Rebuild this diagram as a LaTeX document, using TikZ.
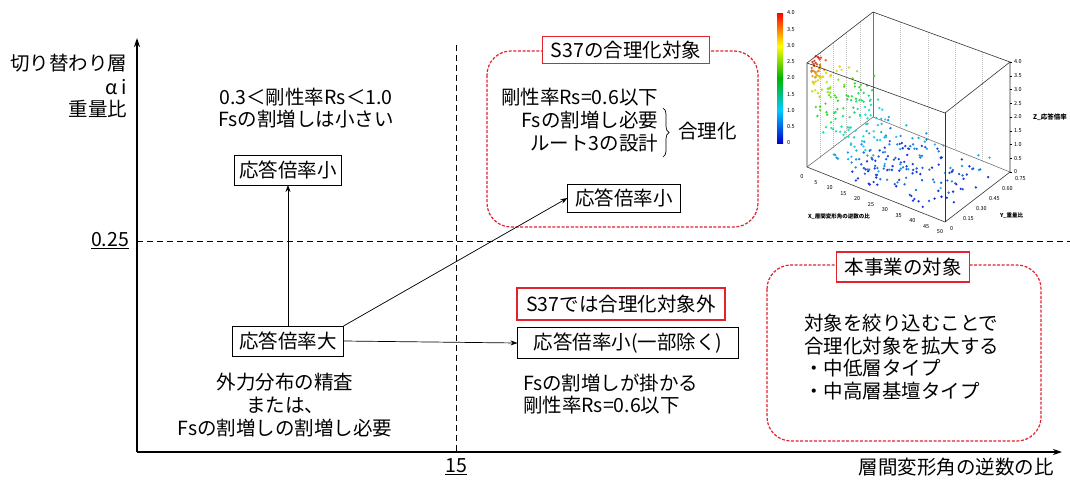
\documentclass[tikz,border=0pt]{standalone}
\usepackage{fontspec}
\setmainfont{Noto Sans CJK JP}
\usetikzlibrary{arrows.meta,decorations.pathreplacing,calc}
\definecolor{redln}{RGB}{225,35,45}
\begin{document}
\begin{tikzpicture}[x=1pt,y=-1pt,
  every node/.style={inner sep=0pt, outer sep=0pt},
  main/.style={font=\fontsize{19.5}{22.7}\selectfont},
  bbox/.style={draw=black, line width=0.9pt, fill=white, font=\fontsize{19.5}{22}\selectfont},
  rbox/.style={draw=redln, line width=1.2pt, fill=white, font=\fontsize{19.5}{22}\selectfont},
  rdash/.style={draw=redln, line width=1.2pt, dash pattern=on 3pt off 1.6pt, rounded corners=24pt},
  kdash/.style={line width=0.9pt, dash pattern=on 6pt off 4pt},
  arr/.style={-{Stealth[length=7pt,width=5pt]}, line width=0.7pt},
  axisln/.style={line width=1.4pt, -{Stealth[length=9pt,width=6pt]}},
  tk/.style={font=\fontsize{5.5}{6}\selectfont},
  edge3d/.style={line width=0.6pt, draw=black!80},
  grid3d/.style={line width=0.3pt, draw=black!25, dash pattern=on 1pt off 1pt},
]
\useasboundingbox (0,0) rectangle (1070,479);
\fill[white] (0,0) rectangle (1070,479);

% ---------- axes ----------
\coordinate (o) at (137,452);
\coordinate (ytop) at (137,38);
\coordinate (xend) at (1062,452);
\draw[axisln] (o) -- (ytop);
\draw[axisln] (o) -- (xend);
\coordinate (h0) at (137,241);
\coordinate (h1) at (1070,241);
\draw[kdash] (h0) -- (h1);
\coordinate (v0) at (456,45);
\coordinate (v1) at (456,452);
\draw[kdash] (v0) -- (v1);

\node[main, anchor=east] (yl1) at (127,63) {切り替わり層};
\node[main, anchor=east] (yl2) at (127,87) {α i};
\node[main, anchor=east] (yl3) at (127,109) {重量比};
\node[main, anchor=east] (v025) at (129,241) {\underline{0.25}};
\node[main] (v15) at (456,467) {\underline{15}};
\node[main] (xl) at (956,467) {層間変形角の逆数の比};

% ---------- left region ----------
\node[main, align=center] (tl) at (306,108) {0.3＜剛性率Rs＜1.0\\Fsの割増しは小さい};
\node[bbox, minimum width=107pt, minimum height=30pt] (small1) at (288,170) {応答倍率小};
\node[bbox, minimum width=111pt, minimum height=30pt] (big) at (288,341) {応答倍率大};
\node[main, align=center] (bl) at (285,405) {外力分布の精査\\または、\\Fsの割増しの割増し必要};

% ---------- S37 target ----------
\draw[rdash] (487,51) rectangle (758,227);
\node[rbox, minimum width=167pt, minimum height=27pt] (s37t) at (626,50) {S37の合理化対象};
\node[main, align=right, anchor=east] (s37txt) at (658,120) {剛性率Rs=0.6以下\\Fsの割増し必要\\ルート3の設計};
\coordinate (br1) at (663,108);
\coordinate (br2) at (663,157);
\draw[decorate, decoration={brace, amplitude=6pt}, line width=0.7pt] (br1) -- (br2);
\node[main, anchor=west] (gr) at (678,131) {合理化};
\node[bbox, minimum width=113pt, minimum height=28pt] (small2) at (624,198) {応答倍率小};

% ---------- S37 outside ----------
\node[rbox, minimum width=208pt, minimum height=32pt] (s37o) at (621,304) {S37では合理化対象外};
\node[bbox, minimum width=221pt, minimum height=31pt] (small3) at (628,343) {応答倍率小(一部除く)};
\node[main, align=left, anchor=west] (fsk) at (523,394) {Fsの割増しが掛かる\\剛性率Rs=0.6以下};

% ---------- this project ----------
\draw[rdash] (767,265) rectangle (1041,441);
\node[rbox, minimum width=133pt, minimum height=30pt] (proj) at (903,267) {本事業の対象};
\node[main, align=left, anchor=west] (projtxt) at (804,357) {対象を絞り込むことで\\合理化対象を拡大する\\・中低層タイプ\\・中高層基壇タイプ};

% ---------- arrows ----------
\draw[arr] (big.north) -- (small1.south);
\draw[arr] (big.north east) -- (small2.west);
\draw[arr] (big.east) -- (small3.west);

% ---------- 3D scatter plot ----------
\coordinate (A) at (807,63);
\coordinate (B) at (873,12);
\coordinate (C) at (1010,62);
\coordinate (D) at (945,113);
\coordinate (E) at (807,167);
\coordinate (F) at (945,222);
\coordinate (G) at (1010,172);
\coordinate (H) at (873,117);
% back grid
\foreach \t in {0.2,0.4,0.6,0.8}{
  \draw[grid3d] ($(B)!\t!(C)$) -- ($(H)!\t!(G)$);
  \draw[grid3d] ($(A)!\t!(B)$) -- ($(E)!\t!(H)$);
}
\draw[edge3d, draw=black!55] (B) -- (H);
\draw[edge3d, draw=black!55] (E) -- (H) -- (G);
% dots
\pgfmathsetseed{11}
\foreach \i in {1,...,340}{
  \pgfmathsetmacro\dx{48*rnd^1.8+0.5}
  \pgfmathsetmacro\dy{0.02+0.6*rnd*min(1,\dx/5+0.1)}
  \pgfmathsetmacro\dz{max(0.15,0.35+3.6*exp(-\dx/6)+1.0*(rnd-0.5))}
  \pgfmathsetmacro\hh{max(0,min(235,245-60*\dz))}
  \pgfmathsetmacro\px{807+\dx/50*138+\dy/0.75*65}
  \pgfmathsetmacro\py{167+\dx/50*55-\dy/0.75*50-\dz/4*104}
  \definecolor{dc}{Hsb}{\hh,0.85,0.88}
  \fill[dc] (\px,\py) circle (1.3);
}
\draw[edge3d] (A) -- (B) -- (C) -- (D) -- cycle;
\draw[edge3d] (A) -- (E) -- (F) -- (G) -- (C);
\draw[edge3d] (D) -- (F);
% colorbar
\shade[top color=red, bottom color=yellow] (777,13) rectangle (783,46);
\shade[top color=yellow, bottom color=green!70!black] (777,46) rectangle (783,78);
\shade[top color=green!70!black, bottom color=cyan!80!blue] (777,78) rectangle (783,110);
\shade[top color=cyan!80!blue, bottom color=blue!80!black] (777,110) rectangle (783,143);
\foreach \v [count=\k from 0] in {4.0,3.5,3.0,2.5,2.0,1.5,1.0,0.5,0}{
  \node[tk, anchor=west] (cb\k) at (787,13+\k*16.25) {\v};
}
% tick labels
\foreach \v [count=\k from 0] in {0,5,10,15,20,25,30,35,40,45,50}{
  \node[tk] (xt\k) at ($(E)!\k/10!(F)+(-5,10)$) {\v};
}
\foreach \v [count=\k from 0] in {0,0.15,0.30,0.45,0.60,0.75}{
  \node[tk, anchor=west] (yt\k) at ($(F)!\k/5!(G)+(5,7)$) {\v};
}
\foreach \v [count=\k from 0] in {4.0,3.5,3.0,2.5,2.0,1.5,1.0,0.5,0}{
  \draw[line width=0.4pt] ($(C)!\k/8!(G)$) -- +(2,0);
  \node[tk, anchor=west] (zt\k) at ($(C)!\k/8!(G)+(4,0)$) {\v};
}
\node[font=\bfseries\fontsize{5.5}{6}\selectfont, anchor=west] (xlab) at (808,217) {X\_層間変形角の逆数の比};
\node[font=\bfseries\fontsize{5.5}{6}\selectfont, anchor=west] (ylab) at (1000,216) {Y\_重量比};
\node[font=\bfseries\fontsize{6.5}{7}\selectfont, anchor=west] (zlab) at (1033,117) {Z\_応答倍率};
\end{tikzpicture}
\end{document}
